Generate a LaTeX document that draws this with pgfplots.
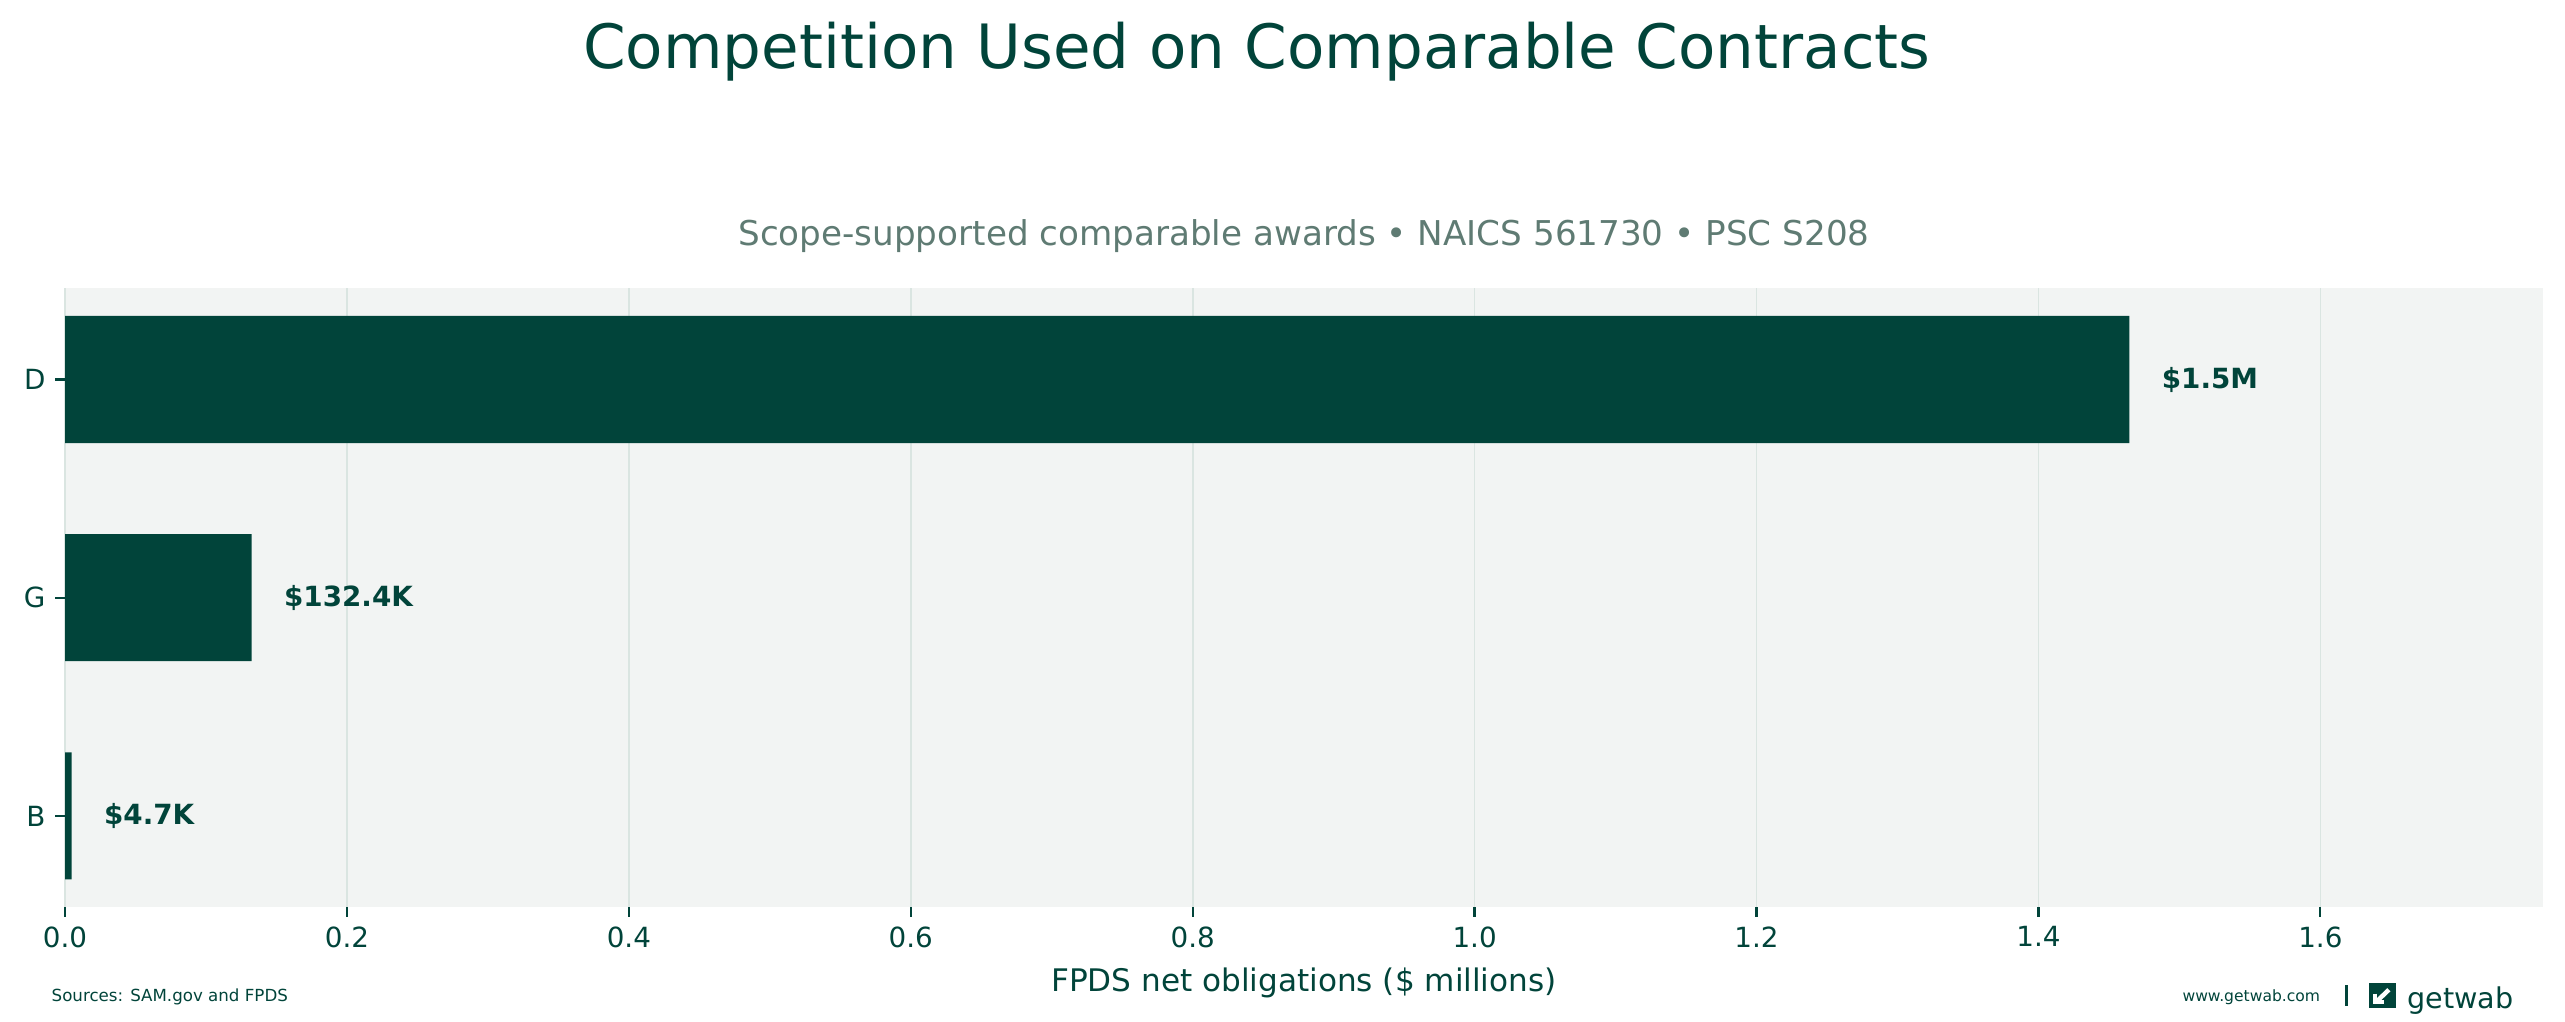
\documentclass[border=0pt]{standalone}
\usepackage{fontspec}
\setmainfont{DejaVu Sans}
\usepackage{pgfplots}
\pgfplotsset{compat=1.18}

\definecolor{wabgreen}{HTML}{01443A}
\definecolor{wabbg}{HTML}{F2F4F3}
\definecolor{wabgrid}{HTML}{DAE5E1}
\definecolor{wabsub}{HTML}{5F7B73}

\begin{document}
\begin{tikzpicture}
\path[use as bounding box] (0,0) rectangle (923.4pt,367.9pt);

\begin{axis}[
    at={(23.4pt,41.4pt)}, anchor=south west,
    scale only axis,
    width=892.1pt, height=222.8pt,
    xbar, bar width=0.582, bar shift=0pt,
    xmin=0, xmax=1.758,
    ymin=-0.417, ymax=2.419,
    axis background/.style={fill=wabbg},
    axis line style={draw=none},
    xmajorgrids,
    grid style={wabgrid, line width=0.6pt},
    tick pos=left,
    tick align=outside,
    major tick length=3.5pt,
    tick style={wabgreen, line width=0.8pt},
    xtick={0,0.2,0.4,0.6,0.8,1.0,1.2,1.4,1.6},
    ytick={0,1,2},
    yticklabels={B,G,D},
    /pgf/number format/assume math mode=true,
    x tick label style={/pgf/number format/fixed,
        /pgf/number format/fixed zerofill,
        /pgf/number format/precision=1},
    ticklabel style={font=\fontsize{10}{12}\selectfont, text=wabgreen},
    point meta=explicit symbolic,
    nodes near coords,
    nodes near coords style={anchor=west, inner sep=0pt, xshift=11.5pt,
        font=\bfseries\fontsize{10}{12}\selectfont, text=wabgreen},
]
\addplot[fill=wabgreen, draw=none] coordinates {
    (0.0047,0) [\$4.7K]
    (0.1324,1) [\$132.4K]
    (1.4645,2) [\$1.5M]
};
\end{axis}

% titles
\node[anchor=base, text=wabgreen, font=\fontsize{22}{26}\selectfont]
    at (452.5pt,343.1pt) {Competition Used on Comparable Contracts};
\node[anchor=base, text=wabsub, font=\fontsize{12.3}{14}\selectfont]
    at (469.4pt,279.7pt) {Scope-supported comparable awards • NAICS 561730 • PSC S208};
\node[anchor=base, text=wabgreen, font=\fontsize{11.2}{13}\selectfont]
    at (469.4pt,10.8pt) {FPDS net obligations (\$ millions)};

% footer
\node[anchor=base west, inner sep=0pt, text=wabgreen, font=\fontsize{6}{7}\selectfont]
    at (18.4pt,7.5pt) {Sources: SAM.gov and FPDS};
\node[anchor=base west, inner sep=0pt, text=wabgreen, font=\fontsize{5.6}{7}\selectfont]
    at (785.5pt,7.2pt) {www.getwab.com};
\fill[wabgreen] (844.2pt,5.7pt) rectangle (845.4pt,13.3pt);
\fill[wabgreen] (852.8pt,5pt) rectangle (862.6pt,14pt);
\draw[white, line width=1.6pt] (860pt,11.6pt) -- (855.6pt,7.4pt);
\draw[white, line width=1.2pt] (855pt,10.2pt) -- (855pt,7.2pt) -- (858.2pt,7.2pt);
\node[anchor=base west, inner sep=0pt, text=wabgreen, font=\fontsize{10.3}{12}\selectfont]
    at (866.5pt,5pt) {getwab};
\end{tikzpicture}
\end{document}
